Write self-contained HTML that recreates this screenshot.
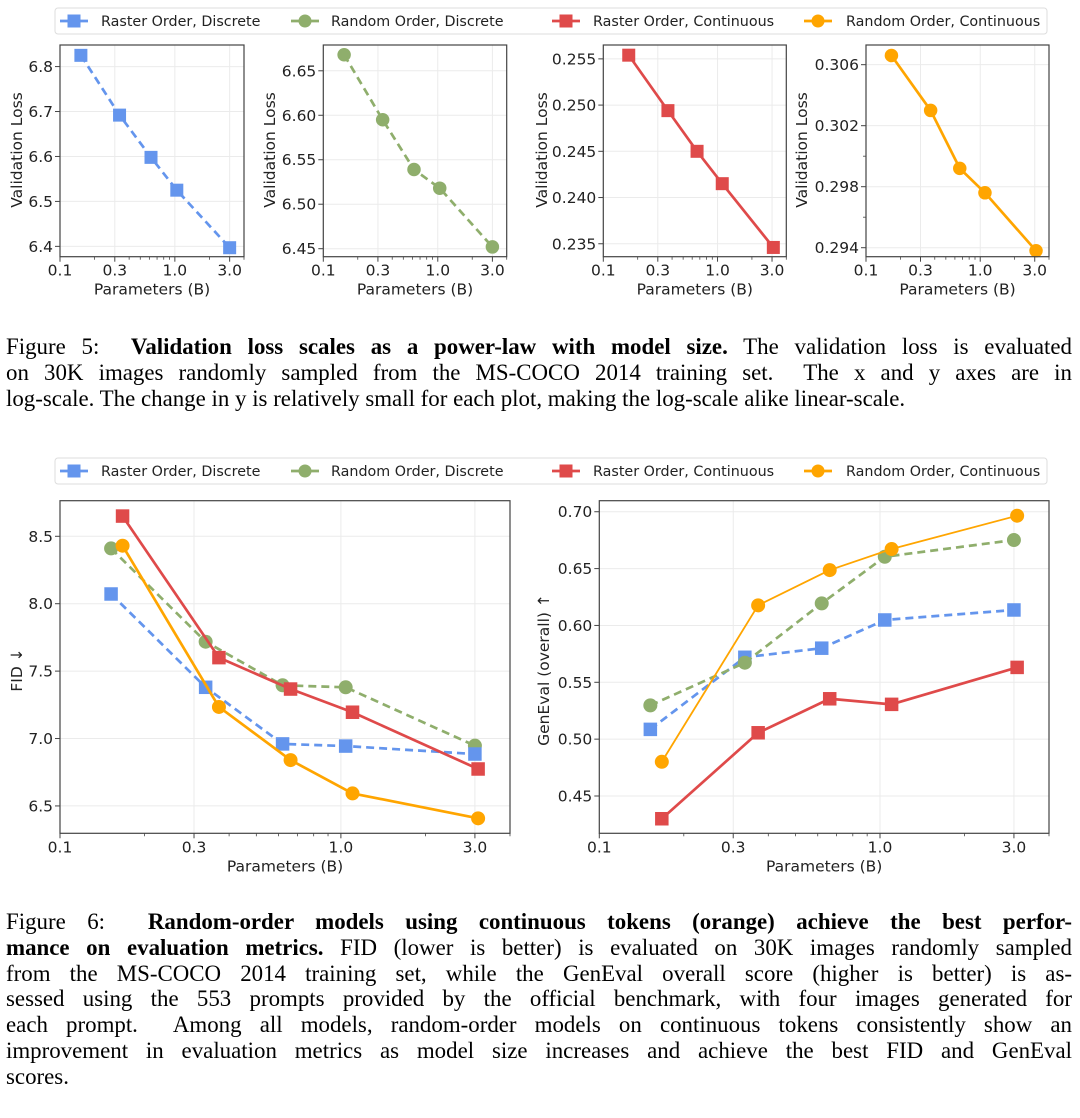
<!DOCTYPE html>
<html><head><meta charset="utf-8">
<style>
html,body{margin:0;padding:0;background:#fff;}
body{width:1080px;height:1118px;position:relative;overflow:hidden;}
svg text{font-family:"DejaVu Sans","Liberation Sans",sans-serif;}
.cap{position:absolute;left:6px;width:1066px;font-family:"Liberation Serif","Times New Roman",serif;font-size:22.9px;line-height:25.8px;color:#000;}
.ln{white-space:nowrap;text-align:justify;text-align-last:justify;height:25.8px;}
.ln.last{text-align-last:left;}
</style></head>
<body>
<svg id="fig" width="1080" height="900" style="position:absolute;left:0;top:0"></svg>

<div class="cap" style="top:334px">
<div class="ln">Figure 5:&nbsp; <b>Validation loss scales as a power-law with model size.</b> The validation loss is evaluated</div>
<div class="ln">on 30K images randomly sampled from the MS-COCO 2014 training set.&nbsp; The x and y axes are in</div>
<div class="ln last">log-scale. The change in y is relatively small for each plot, making the log-scale alike linear-scale.</div>
</div>

<div class="cap" style="top:909px">
<div class="ln">Figure 6:&nbsp; <b>Random-order models using continuous tokens (orange) achieve the best perfor-</b></div>
<div class="ln"><b>mance on evaluation metrics.</b> FID (lower is better) is evaluated on 30K images randomly sampled</div>
<div class="ln">from the MS-COCO 2014 training set, while the GenEval overall score (higher is better) is as-</div>
<div class="ln">sessed using the 553 prompts provided by the official benchmark, with four images generated for</div>
<div class="ln">each prompt.&nbsp; Among all models, random-order models on continuous tokens consistently show an</div>
<div class="ln">improvement in evaluation metrics as model size increases and achieve the best FID and GenEval</div>
<div class="ln last">scores.</div>
</div>

<script>
// ---- data ----
const seriesNames = ["Raster Order, Discrete","Random Order, Discrete","Raster Order, Continuous","Random Order, Continuous"];
const xDiscrete = [0.152, 0.33, 0.62, 1.04, 3.0];
const xContinuous = [0.167, 0.368, 0.662, 1.1, 3.08];
const xTicks = [0.1, 0.3, 1.0, 3.0];
const xTickLabels = ["0.1","0.3","1.0","3.0"];
// Figure 5 validation loss
const lossRasterDiscrete = [6.825, 6.692, 6.598, 6.525, 6.397];
const lossRandomDiscrete = [6.668, 6.595, 6.539, 6.518, 6.452];
const lossRasterContinuous = [0.2554, 0.2494, 0.2450, 0.2415, 0.2346];
const lossRandomContinuous = [0.3066, 0.3030, 0.2992, 0.2976, 0.2938];
const yTicksLoss1 = [6.4, 6.5, 6.6, 6.7, 6.8];
const yTicksLoss2 = [6.45, 6.50, 6.55, 6.60, 6.65];
const yTicksLoss3 = [0.235, 0.240, 0.245, 0.250, 0.255];
const yTicksLoss4 = [0.294, 0.298, 0.302, 0.306];
// Figure 6 FID
const fidRasterDiscrete = [8.072, 7.38, 6.96, 6.944, 6.885];
const fidRandomDiscrete = [8.41, 7.718, 7.395, 7.38, 6.947];
const fidRasterContinuous = [8.65, 7.60, 7.367, 7.195, 6.774];
const fidRandomContinuous = [8.43, 7.234, 6.84, 6.593, 6.408];
const yTicksFid = [6.5, 7.0, 7.5, 8.0, 8.5];
// Figure 6 GenEval
const genRasterDiscrete = [0.5086, 0.572, 0.580, 0.6048, 0.6136];
const genRandomDiscrete = [0.5297, 0.5672, 0.6194, 0.6604, 0.6751];
const genRasterContinuous = [0.430, 0.5056, 0.5355, 0.5306, 0.5631];
const genRandomContinuous = [0.4801, 0.6177, 0.6487, 0.6672, 0.6965];
const yTicksGen = [0.45, 0.50, 0.55, 0.60, 0.65, 0.70];

const NS = "http://www.w3.org/2000/svg";
const svg = document.getElementById('fig');
const COLORS = ["#6495ed", "#8fae6c", "#df4a4a", "#ffa500"];
const FS = 15.5;
function el(tag, attrs, parent) {
  const e = document.createElementNS(NS, tag);
  for (const k in attrs) e.setAttribute(k, attrs[k]);
  (parent || svg).appendChild(e);
  return e;
}
function marker(g, kind, cx, cy, color, size) {
  let m;
  if (kind === 'sq') m = el('rect', {x: cx - size/2, y: cy - size/2, width: size, height: size, fill: color}, g);
  else m = el('circle', {cx: cx, cy: cy, r: size/2, fill: color}, g);
  return m;
}
function fmt(v, d) { return v.toFixed(d); }

function chart(c) {
  const g = el('g', {});
  
  
  const lx0 = Math.log10(0.1), lx1 = Math.log10(4.0);
  const X = v => c.x0 + (Math.log10(v) - lx0) / (lx1 - lx0) * (c.x1 - c.x0);
  const Y = v => c.y1 - (v - c.ymin) / (c.ymax - c.ymin) * (c.y1 - c.y0);
  xTicks.forEach(t => {
    const l = el('line', {x1: X(t), x2: X(t), y1: c.y0, y2: c.y1, stroke: "#ebebeb", 'stroke-width': 1}, g);
    
    
  });
  c.yticks.forEach(t => {
    const l = el('line', {x1: c.x0, x2: c.x1, y1: Y(t), y2: Y(t), stroke: "#ebebeb", 'stroke-width': 1}, g);
    
    
  });
  c.series.forEach(s => {
    const pts = s.x.map((xv, i) => X(xv) + ',' + Y(s.y[i])).join(' ');
    const pl = el('polyline', {points: pts, fill: 'none', stroke: s.color, 'stroke-width': s.lw || 2.7, 'stroke-dasharray': s.dash ? '8,5' : 'none', 'stroke-linejoin': 'round'}, g);
    
    
    s.x.forEach((xv, i) => {
      const m = marker(g, s.mk, X(xv), Y(s.y[i]), s.color, s.mk === 'sq' ? c.ms : c.ms + 0.5);
      
      
    });
  });
  const fr = el('rect', {x: c.x0, y: c.y0, width: c.x1 - c.x0, height: c.y1 - c.y0, fill: 'none', stroke: '#444', 'stroke-width': 1.2}, g);
  
  
  xTicks.forEach((t, i) => {
    el('line', {x1: X(t), x2: X(t), y1: c.y1, y2: c.y1 + 5, stroke: '#444', 'stroke-width': 1}, g);
    const tx = el('text', {x: X(t), y: c.y1 + 19, 'font-size': FS, 'text-anchor': 'middle', fill: '#222'}, g);
    tx.textContent = xTickLabels[i];
    
    
  });
  [0.2,0.4,0.5,0.6,0.7,0.8,0.9,2,4].forEach(t => {
    el('line', {x1: X(t), x2: X(t), y1: c.y1, y2: c.y1 + 3, stroke: '#444', 'stroke-width': 0.8}, g);
  });
  c.yticks.forEach(t => {
    el('line', {x1: c.x0 - 5, x2: c.x0, y1: Y(t), y2: Y(t), stroke: '#444', 'stroke-width': 1}, g);
    const ty = el('text', {x: c.x0 - 7, y: Y(t) + 5.5, 'font-size': FS, 'text-anchor': 'end', fill: '#222'}, g);
    ty.textContent = fmt(t, c.yd);
    
    
  });
  (c.yminor || []).forEach(t => {
    el('line', {x1: c.x0 - 3, x2: c.x0, y1: Y(t), y2: Y(t), stroke: '#444', 'stroke-width': 0.8}, g);
  });
  const xl = el('text', {x: (c.x0 + c.x1) / 2, y: c.y1 + 38, 'font-size': FS, 'text-anchor': 'middle', fill: '#222'}, g);
  xl.textContent = 'Parameters (B)';
  
  
  const yl = el('text', {x: 0, y: 0, 'font-size': FS, 'text-anchor': 'middle', fill: '#222', transform: `translate(${c.ylx},${c.yly}) rotate(-90)`}, g);
  yl.textContent = c.ytitle;
  
  
}

function legend(y0, name) {
  const g = el('g', {});
  
  
  el('rect', {x: 55, y: y0, width: 992, height: 26, rx: 3, fill: '#fff', stroke: '#ddd', 'stroke-width': 1}, g);
  const hx = [60, 291, 552, 804];
  const tx = [101, 331, 593, 846];
  const mk = ['sq','ci','sq','ci'];
  seriesNames.forEach((n, i) => {
    const cy = y0 + 13;
    const e = el('g', {}, g);
    
    
    el('line', {x1: hx[i], x2: hx[i] + 28, y1: cy, y2: cy, stroke: COLORS[i], 'stroke-width': 2.7}, e);
    marker(e, mk[i], hx[i] + 14, cy, COLORS[i], 13);
    const t = el('text', {x: tx[i], y: cy + 5, 'font-size': 14.3, fill: '#222'}, e);
    t.textContent = n;
  });
}

legend(8, 'legend-fig5');
legend(458, 'legend-fig6');

const topRow = {y0: 45, y1: 256.7, ms: 13};
chart(Object.assign({name:'chart-loss-raster-discrete', x0:60, x1:244, ymin:6.377, ymax:6.848, yticks:yTicksLoss1, yd:1, ylx:22, yly:150, ytitle:'Validation Loss',
  series:[{key:'raster-discrete', x:xDiscrete, y:lossRasterDiscrete, color:COLORS[0], mk:'sq', dash:true}]}, topRow));
chart(Object.assign({name:'chart-loss-random-discrete', x0:323.3, x1:506.7, ymin:6.441, ymax:6.679, yticks:yTicksLoss2, yd:2, ylx:275, yly:150, ytitle:'Validation Loss',
  series:[{key:'random-discrete', x:xDiscrete, y:lossRandomDiscrete, color:COLORS[1], mk:'ci', dash:true}]}, topRow));
chart(Object.assign({name:'chart-loss-raster-continuous', x0:603.3, x1:786.3, ymin:0.2336, ymax:0.2565, yticks:yTicksLoss3, yd:3, ylx:547, yly:150, ytitle:'Validation Loss',
  series:[{key:'raster-continuous', x:xContinuous, y:lossRasterContinuous, color:COLORS[2], mk:'sq'}]}, topRow));
chart(Object.assign({name:'chart-loss-random-continuous', x0:866, x1:1049, ymin:0.29341, ymax:0.30729, yticks:yTicksLoss4, yminor:[0.296,0.300], yd:3, ylx:807, yly:150, ytitle:'Validation Loss',
  series:[{key:'random-continuous', x:xContinuous, y:lossRandomContinuous, color:COLORS[3], mk:'ci'}]}, topRow));

const botRow = {y0: 500.7, y1: 833.3, ms: 13.5};
chart(Object.assign({name:'chart-fid', x0:60, x1:510, ymin:6.297, ymax:8.764, yticks:yTicksFid, yd:1, ylx:22, yly:670, ytitle:'FID \u2193',
  series:[
    {key:'random-discrete', x:xDiscrete, y:fidRandomDiscrete, color:COLORS[1], mk:'ci', dash:true},
    {key:'raster-discrete', x:xDiscrete, y:fidRasterDiscrete, color:COLORS[0], mk:'sq', dash:true},
    {key:'raster-continuous', x:xContinuous, y:fidRasterContinuous, color:COLORS[2], mk:'sq'},
    {key:'random-continuous', x:xContinuous, y:fidRandomContinuous, color:COLORS[3], mk:'ci'}]}, botRow));
chart(Object.assign({name:'chart-geneval', x0:599.3, x1:1049, ymin:0.4172, ymax:0.7097, yticks:yTicksGen, yd:2, ylx:549, yly:670, ytitle:'GenEval (overall) \u2191',
  series:[
    {key:'raster-discrete', x:xDiscrete, y:genRasterDiscrete, color:COLORS[0], mk:'sq', dash:true},
    {key:'random-discrete', x:xDiscrete, y:genRandomDiscrete, color:COLORS[1], mk:'ci', dash:true},
    {key:'raster-continuous', x:xContinuous, y:genRasterContinuous, color:COLORS[2], mk:'sq'},
    {key:'random-continuous', x:xContinuous, y:genRandomContinuous, color:COLORS[3], mk:'ci', lw:1.8}]}, botRow));
</script>
</body></html>
